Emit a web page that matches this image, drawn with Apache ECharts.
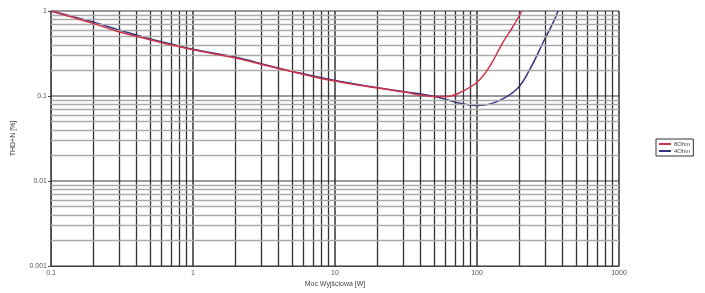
<!DOCTYPE html>
<html><head><meta charset="utf-8">
<script src="https://cdn.jsdelivr.net/npm/echarts@6/dist/echarts.min.js"></script>
<style>html,body{margin:0;padding:0;background:#fff}#c{width:705px;height:293px}</style>
</head><body><div id="c"></div>
<script>
// Power (W) and THD+N (%) values
const power8 = [0.1, 0.15, 0.2, 0.3, 0.5, 0.7, 1, 2, 3.5, 5, 10, 20, 30, 50, 62, 76, 100, 123, 152, 179, 207];
const thd8   = [1.0, 0.82, 0.71, 0.57, 0.46, 0.40, 0.35, 0.28, 0.222, 0.193, 0.15, 0.124, 0.112, 0.099, 0.099, 0.11, 0.145, 0.224, 0.426, 0.653, 1.0];
const power4 = [0.1, 0.15, 0.2, 0.3, 0.5, 0.7, 1, 2, 3.5, 5, 10, 20, 30, 50, 65, 76, 100, 138, 191, 236, 292, 343, 372];
const thd4   = [1.0, 0.84, 0.74, 0.60, 0.47, 0.41, 0.355, 0.285, 0.225, 0.195, 0.152, 0.125, 0.113, 0.099, 0.088, 0.082, 0.0773, 0.086, 0.121, 0.207, 0.426, 0.726, 1.0];
const seriesNames = ['8Ohm', '4Ohm'];
const xTickValues = [0.1, 1, 10, 100, 1000];
const yTickValues = [0.001, 0.01, 0.1, 1];
const minorMultipliers = [2, 3, 4, 5, 6, 7, 8, 9];

const xMinor = [];
xTickValues.slice(0, -1).forEach(d => minorMultipliers.forEach(m => xMinor.push(+(d * m).toPrecision(3))));
const yMinor = [];
yTickValues.slice(0, -1).forEach(d => minorMultipliers.forEach(m => yMinor.push(+(d * m).toPrecision(3))));
const xMin = xTickValues[0], xMax = xTickValues[xTickValues.length - 1];

const chart = echarts.init(document.getElementById('c'), null, {renderer: 'canvas'});
const font = 'Liberation Sans, Arial, sans-serif';
chart.setOption({
  animation: false,
  backgroundColor: '#fff',
  grid: {left: 51, right: 86, top: 11, bottom: 23},
  legend: {
    data: seriesNames, orient: 'vertical', left: 656, top: 139,
    itemWidth: 12, itemHeight: 2, itemGap: 1, padding: [2, 3],
    borderColor: '#333', borderWidth: 1,
    icon: 'rect',
    textStyle: {fontSize: 6, fontFamily: font, color: '#444', padding: [0, 0, 0, -2]}
  },
  xAxis: {
    type: 'log', logBase: 10, min: 0.1, max: 1000,
    name: 'Moc Wyjściowa [W]', nameLocation: 'middle', nameGap: 12,
    nameTextStyle: {fontSize: 7, fontFamily: font, color: '#444'},
    axisLine: {lineStyle: {color: '#444', width: 1}},
    axisTick: {show: false},
    axisLabel: {fontSize: 7, fontFamily: font, color: '#555', margin: 3,
      formatter: v => String(+(+v).toPrecision(3))},
    splitLine: {show: true, lineStyle: {color: '#333', width: 1.5}}
  },
  yAxis: {
    type: 'log', logBase: 10, min: 0.001, max: 1,
    name: 'THD+N [%]', nameLocation: 'middle', nameGap: 34, nameRotate: 90,
    nameTextStyle: {fontSize: 7, fontFamily: font, color: '#444'},
    axisLine: {lineStyle: {color: '#444', width: 1}},
    axisTick: {show: true, length: 3, lineStyle: {color: '#444'}},
    axisLabel: {fontSize: 7, fontFamily: font, color: '#555', margin: 4,
      formatter: v => String(+(+v).toPrecision(3))},
    splitLine: {show: true, lineStyle: {color: '#777', width: 1.5}}
  },
  series: [
    {
      name: seriesNames[0], type: 'line', smooth: 0.4, showSymbol: false, clip: true,
      data: power8.map((p, i) => [p, thd8[i]]),
      lineStyle: {color: '#d0344a', width: 1.5}, itemStyle: {color: '#d0344a'}, z: 5,
      markLine: {
        silent: true, symbol: 'none', label: {show: false},
        lineStyle: {color: '#333', width: 1.3, type: 'solid'},
        data: xMinor.map(v => ({xAxis: v}))
      }
    },
    {
      name: seriesNames[1], type: 'line', smooth: 0.4, showSymbol: false, clip: true,
      data: power4.map((p, i) => [p, thd4[i]]),
      lineStyle: {color: '#33337f', width: 1.5}, itemStyle: {color: '#33337f'}, z: 4,
      markLine: {
        silent: true, symbol: 'none', label: {show: false},
        lineStyle: {color: '#aaa', width: 1.3, type: 'solid'},
        data: yMinor.map(v => [{coord: [xMin, v]}, {coord: [xMax, v]}])
      }
    }
  ]
});
</script></body></html>
